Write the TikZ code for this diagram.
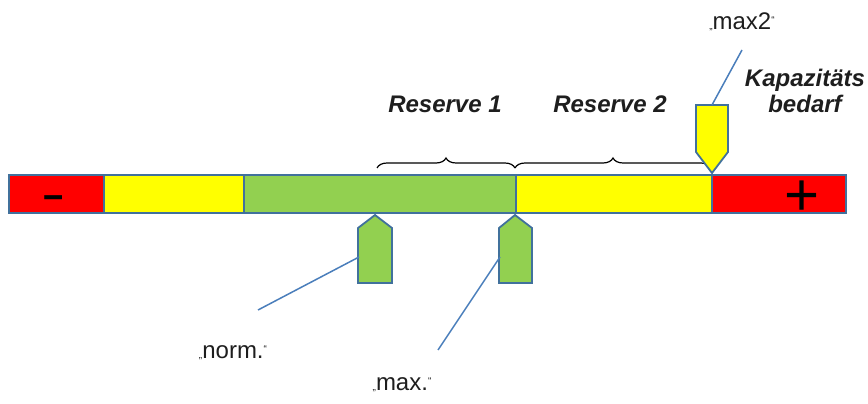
\documentclass[tikz,border=0pt]{standalone}
\usepackage{fontspec}
\setmainfont{Liberation Sans}
\usetikzlibrary{decorations.pathreplacing}
\definecolor{edge}{HTML}{41719C}
\definecolor{leader}{HTML}{4A7EBB}
\definecolor{segred}{HTML}{FF0000}
\definecolor{segyellow}{HTML}{FFFF00}
\definecolor{seggreen}{HTML}{92D050}
\definecolor{ink}{HTML}{1E1E1E}
% small German quotation marks around the marker names
\newcommand\qopen{{\fontsize{10}{10}\selectfont „}}
\newcommand\qclose{\raisebox{6pt}{\fontsize{10}{10}\selectfont “}}
\begin{document}
\begin{tikzpicture}[x=1pt,y=-1pt,
  seg/.style={draw=edge, line width=1.8pt, inner sep=0pt, minimum height=38pt, anchor=west},
  marker/.style={draw=edge, line width=1.8pt, line join=miter},
  leaderline/.style={draw=leader, line width=1.5pt},
  sign/.style={text=black, inner sep=0pt, anchor=base},
  tag/.style={font=\fontsize{24}{24}\selectfont, text=ink, inner sep=0pt, anchor=base},
  title/.style={font=\fontsize{24}{27}\selectfont\bfseries\itshape, text=ink, inner sep=0pt, anchor=base},
  bracket/.style={draw=black, line width=1.2pt, decorate, decoration={brace, amplitude=10pt}}]
\useasboundingbox (0,0) rectangle (868,404);

% the scale bar
\node[seg, fill=segred,    minimum width=95pt]  (neg)  at (8,194)   {};
\node[seg, fill=segyellow, minimum width=140pt] (low)  at (103,194) {};
\node[seg, fill=seggreen,  minimum width=272pt] (ok)   at (243,194) {};
\node[seg, fill=segyellow, minimum width=196pt] (high) at (515,194) {};
\node[seg, fill=segred,    minimum width=134pt] (pos)  at (711,194) {};
\node[sign, font=\fontsize{52}{52}\selectfont] (minus) at (54,211) {\scalebox{1.4}[1]{-}};
\node[sign, font=\fontsize{60}{60}\selectfont] (plus)  at (802.5,215) {+};

% reserve brackets above the bar
\coordinate (b0) at (377,168);
\coordinate (b1) at (515,168);
\coordinate (b2) at (711,168);
\draw[bracket] (b0) -- (b1);
\draw[bracket] (b1) -- (b2);

\node[title] (res1) at (445,112) {Reserve 1};
\node[title] (res2) at (610,112) {Reserve 2};
\node[title, align=center] (cap) at (805,113) {Kapazitäts\\bedarf};

% markers
\draw[marker, fill=seggreen]  (358,283) -- (358,228) -- (375,215) -- (392,228) -- (392,283) -- cycle;
\draw[marker, fill=seggreen]  (499,283) -- (499,228) -- (515,215) -- (532,228) -- (532,283) -- cycle;
\draw[marker, fill=segyellow] (696,105) -- (728,105) -- (728,152) -- (712,173) -- (696,152) -- cycle;

\coordinate (mnorm) at (359,257);
\coordinate (mmax)  at (500,257);
\coordinate (mmax2) at (712,105);
\coordinate (enorm) at (258,310);
\coordinate (emax)  at (438,350);
\coordinate (emax2) at (742,50);

\draw[leaderline] (mnorm) -- (enorm);
\draw[leaderline] (mmax)  -- (emax);
\draw[leaderline] (mmax2) -- (emax2);

\node[tag] (lnorm) at (233,358) {\qopen norm.\qclose};
\node[tag] (lmax)  at (402,390) {\qopen max.\qclose};
\node[tag] (lmax2) at (742,30)  {\qopen max2\qclose};
\end{tikzpicture}
\end{document}
